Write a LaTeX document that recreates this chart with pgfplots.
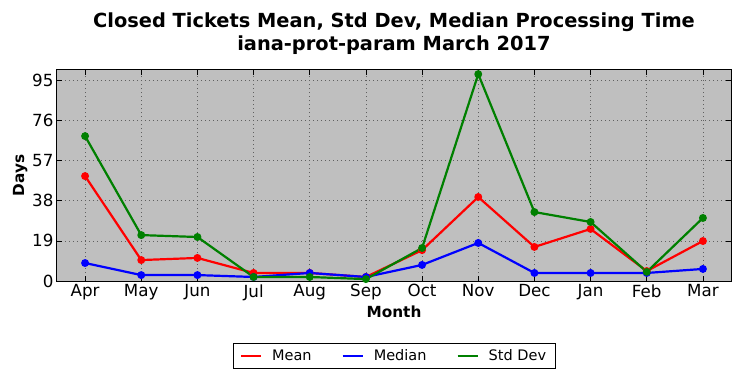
\documentclass[border=0pt]{standalone}
\usepackage{fontspec}
\setmainfont{DejaVu Sans}
\usepackage{pgfplots}
\pgfplotsset{compat=1.18}
\definecolor{bgray}{RGB}{191,191,191}
\definecolor{mgreen}{RGB}{0,128,0}
\begin{document}
\begin{tikzpicture}
\begin{axis}[
  scale only axis,
  width=674bp, height=211bp,
  at={(0,0)}, anchor=south west,
  xmin=-0.5, xmax=11.5, ymin=0, ymax=99.75,
  xtick={0,...,11},
  xticklabels={Apr,May,Jun,Jul,Aug,Sep,Oct,Nov,Dec,Jan,Feb,Mar},
  ytick={0,19,38,57,76,95},
  tick align=inside,
  major tick length=5bp,
  tick style={black, line width=0.6bp},
  axis background/.style={fill=bgray},
  axis line style={black, line width=1bp},
  grid=major,
  grid style={dash pattern=on 1bp off 3bp, gray!75!black, line width=0.6bp},
  /pgf/number format/assume math mode=true,
  ticklabel style={font=\fontsize{16.7bp}{20bp}\selectfont},
  xlabel={\bfseries Month},
  ylabel={\bfseries Days},
  label style={font=\fontsize{15.3bp}{18bp}\selectfont},
  xlabel style={yshift=2bp},
  ylabel style={yshift=-2bp},
  title={\bfseries Closed Tickets Mean, Std Dev, Median Processing Time\\\bfseries iana-prot-param March 2017},
  title style={font=\fontsize{19.4bp}{23bp}\selectfont, align=center, yshift=6bp},
  legend columns=3,
  legend style={at={(0.5,-0.294)}, anchor=north, draw=black, line width=0.8bp,
    font=\fontsize{14.5bp}{17bp}\selectfont, inner xsep=7bp, inner ysep=4bp,
    /tikz/every odd column/.append style={column sep=8bp},
    /tikz/every even column/.append style={column sep=28bp}},
  legend image code/.code={\draw[#1, mark=none] (0bp,0bp) -- (20bp,0bp);},
  every axis plot/.append style={line width=2.2bp, mark=*, mark size=2.8bp,
    mark options={draw=black, line width=0.5bp}},
]
\addplot[red, mark options={fill=red}] coordinates {
(0,49.6) (1,9.9) (2,10.9) (3,3.8) (4,3.8) (5,1.9) (6,14.6) (7,39.7) (8,16.1) (9,24.6) (10,4.7) (11,18.9)};
\addlegendentry{Mean}
\addplot[blue, mark options={fill=blue}] coordinates {
(0,8.5) (1,2.8) (2,2.8) (3,1.9) (4,3.8) (5,1.9) (6,7.6) (7,18.0) (8,3.8) (9,3.8) (10,3.8) (11,5.7)};
\addlegendentry{Median}
\addplot[mgreen, mark options={fill=mgreen}] coordinates {
(0,68.5) (1,21.7) (2,20.8) (3,1.9) (4,1.9) (5,0.9) (6,15.6) (7,97.8) (8,32.6) (9,27.9) (10,4.3) (11,29.8)};
\addlegendentry{Std Dev}
\end{axis}
\useasboundingbox (-57bp,-97bp) rectangle (684bp,281bp);
\end{tikzpicture}
\end{document}
